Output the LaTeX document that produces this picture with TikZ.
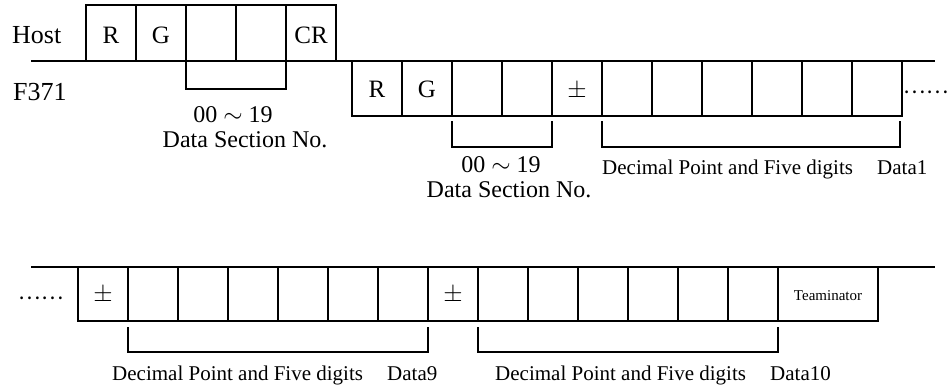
\documentclass[tikz,border=0pt]{standalone}
\usepackage{fontspec}
\setmainfont{Liberation Serif}
\newfontfamily\cjk{Noto Sans CJK SC}
\begin{document}
\begin{tikzpicture}[x=1pt,y=-1pt,
  cell/.style={draw, line width=1.8pt, minimum width=50pt, inner sep=0pt, outer sep=0pt,
    text height=18pt, text depth=0pt, font=\fontsize{25}{30}\selectfont},
  lbl/.style={inner sep=0pt, font=\fontsize{26}{30}\selectfont},
  sml/.style={inner sep=0pt, font=\fontsize{24}{28}\selectfont},
  dec/.style={inner sep=0pt, font=\fontsize{21}{25}\selectfont},
  dotsx/.style={inner sep=0pt, font=\cjk\fontsize{21}{25}\selectfont},
  wire/.style={line width=1.8pt}]
\useasboundingbox (0,0) rectangle (949,391);
% long rules
\coordinate (t1a) at (31,61);
\coordinate (t1b) at (935,61);
\coordinate (t2a) at (31,267);
\coordinate (t2b) at (935,267);
\draw[wire] (t1a) -- (t1b);
\draw[wire] (t2a) -- (t2b);
% labels
\node[lbl, anchor=base west] (host) at (12,43) {Host};
\node[lbl, anchor=base west] (f371) at (13,100) {F371};
% host row
\node[cell, minimum height=56pt, text height=20pt] (h1) at (111,33) {R};
\node[cell, minimum height=56pt, text height=20pt] (h2) at (161,33) {G};
\node[cell, minimum height=56pt, text height=20pt] (h3) at (211,33) {};
\node[cell, minimum height=56pt, text height=20pt] (h4) at (261,33) {};
\node[cell, minimum height=56pt, text height=20pt] (h5) at (311,33) {CR};
% F371 row
\node[cell, minimum height=55pt, text height=17pt] (f1) at (377,88.5) {R};
\node[cell, minimum height=55pt, text height=17pt] (f2) at (427,88.5) {G};
\node[cell, minimum height=55pt, text height=17pt] (f3) at (477,88.5) {};
\node[cell, minimum height=55pt, text height=17pt] (f4) at (527,88.5) {};
\node[cell, minimum height=55pt, text height=17pt] (f5) at (577,88.5) {$\pm$};
\node[cell, minimum height=55pt] (f6) at (627,88.5) {};
\node[cell, minimum height=55pt] (f7) at (677,88.5) {};
\node[cell, minimum height=55pt] (f8) at (727,88.5) {};
\node[cell, minimum height=55pt] (f9) at (777,88.5) {};
\node[cell, minimum height=55pt] (f10) at (827,88.5) {};
\node[cell, minimum height=55pt] (f11) at (877,88.5) {};
\node[dotsx] (d1) at (926,92) {……};
% lower row
\node[dotsx] (d2) at (41,298) {……};
\node[cell, minimum height=54pt, text height=14pt] (g1) at (103,294) {$\pm$};
\node[cell, minimum height=54pt] (g2) at (153,294) {};
\node[cell, minimum height=54pt] (g3) at (203,294) {};
\node[cell, minimum height=54pt] (g4) at (253,294) {};
\node[cell, minimum height=54pt] (g5) at (303,294) {};
\node[cell, minimum height=54pt] (g6) at (353,294) {};
\node[cell, minimum height=54pt] (g7) at (403,294) {};
\node[cell, minimum height=54pt, text height=14pt] (g8) at (453,294) {$\pm$};
\node[cell, minimum height=54pt] (g9) at (503,294) {};
\node[cell, minimum height=54pt] (g10) at (553,294) {};
\node[cell, minimum height=54pt] (g11) at (603,294) {};
\node[cell, minimum height=54pt] (g12) at (653,294) {};
\node[cell, minimum height=54pt] (g13) at (703,294) {};
\node[cell, minimum height=54pt] (g14) at (753,294) {};
\node[cell, minimum height=54pt, minimum width=100pt, text height=12pt, font=\fontsize{15}{18}\selectfont] (g15) at (828,294) {Teaminator};
% brackets
\draw[wire] (h3.south west) -- ++(0,28) -| (h4.south east);
\draw[wire] ([yshift=-5pt]f3.south west) -- ++(0,26) -| ([yshift=-5pt]f4.south east);
\draw[wire] ([yshift=-5pt]f6.south west) -- ++(0,26) -| ([yshift=-5pt,xshift=-2pt]f11.south east);
\draw[wire] ([yshift=-6pt]g2.south west) -- ++(0,25) -| ([yshift=-6pt]g7.south east);
\draw[wire] ([yshift=-6pt]g9.south west) -- ++(0,25) -| ([yshift=-6pt]g14.south east);
% bracket texts
\node[sml, anchor=base] (r1) at (233,122) {00 $\sim$ 19};
\node[sml, anchor=base] (ds1) at (245,147) {Data Section No.};
\node[sml, anchor=base] (r2) at (501,172) {00 $\sim$ 19};
\node[sml, anchor=base] (ds2) at (509,197) {Data Section No.};
\node[dec, anchor=base west] (dp1) at (602,174) {Decimal Point and Five digits};
\node[dec, anchor=base west] (da1) at (877,174) {Data1};
\node[dec, anchor=base west] (dp9) at (112,380) {Decimal Point and Five digits};
\node[dec, anchor=base west] (da9) at (387,380) {Data9};
\node[dec, anchor=base west] (dp10) at (495,380) {Decimal Point and Five digits};
\node[dec, anchor=base west] (da10) at (770,380) {Data10};
\end{tikzpicture}
\end{document}
